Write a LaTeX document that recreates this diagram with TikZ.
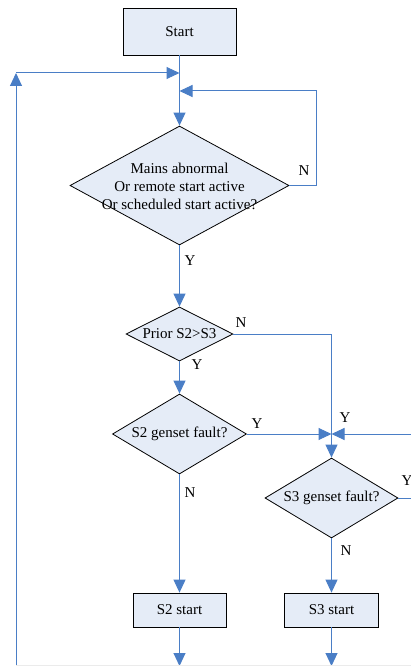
\documentclass[tikz,border=0pt]{standalone}
\usepackage{fontspec}
\setmainfont{Liberation Serif}
\usetikzlibrary{shapes.geometric,arrows.meta}
\definecolor{lineblue}{RGB}{74,126,198}
\definecolor{boxfill}{RGB}{229,236,247}
\begin{document}
\begin{tikzpicture}[x=1pt,y=-1pt,
  font=\fontsize{15}{18}\selectfont,
  box/.style={rectangle,draw,fill=boxfill,line width=0.8pt},
  dia/.style={diamond,draw,fill=boxfill,line width=0.8pt,inner sep=0pt},
  arr/.style={draw=lineblue,line width=1pt,-{Triangle[length=13pt,width=12pt]}},
  ln/.style={draw=lineblue,line width=1pt}]
\useasboundingbox (0,0) rectangle (411,666);
\node[box,minimum width=113pt,minimum height=47pt] (start) at (179.5,31.5) {Start};
\node[dia,minimum width=219pt,minimum height=119pt] (mains) at (179.5,185.5) {};
\node[align=center] (mainstext) at (179.5,186.5) {Mains abnormal\\Or remote start active\\Or scheduled start active?};
\node[dia,minimum width=107pt,minimum height=54pt] (prior) at (179.5,334) {};
\node (priortext) at (prior) {Prior S2>S3};
\node[dia,minimum width=134pt,minimum height=80pt] (s2f) at (179.5,434) {};
\node (s2ftext) at (s2f) {S2 genset fault?};
\node[dia,minimum width=133pt,minimum height=80pt] (s3f) at (331.5,498) {};
\node (s3ftext) at (s3f) {S3 genset fault?};
\node[box,minimum width=93pt,minimum height=34pt] (s2start) at (179.5,610) {S2 start};
\node[box,minimum width=94pt,minimum height=34pt] (s3start) at (331.5,610) {S3 start};

\coordinate (loopbot) at (16,666);
\coordinate (looptop) at (16,73);
\coordinate (join1) at (179.5,73);
\coordinate (join2) at (179.5,91);
\coordinate (meet) at (331.5,434);
\coordinate (rightin) at (411,434);
\coordinate (s3yout) at (411,498);
\coordinate (s2out) at (179.5,666);
\coordinate (s3out) at (331.5,666);
\coordinate (bottomright) at (411,665);

% connectors
\draw[arr] (start) -- (mains);
\draw[arr] (loopbot) -- (looptop);
\draw[arr] (looptop) -- (join1);
\draw[arr] (mains.east) -- ++(27,0) |- (join2);
\draw[arr] (mains) -- (prior);
\draw[arr] (prior) -- (s2f);
\draw[arr] (prior.east) -| (s3f);
\draw[arr] (s2f) -- (meet);
\draw[arr] (rightin) -- (meet);
\draw[ln] (s3f) -- (s3yout);
\draw[arr] (s2f) -- (s2start);
\draw[arr] (s3f) -- (s3start);
\draw[arr] (s2start) -- (s2out);
\draw[arr] (s3start) -- (s3out);
\draw[black!8,line width=0.6pt] ([yshift=1pt]loopbot) -- (bottomright);

% Y/N labels
\node (nmains) at (304,171) {N};
\node (ymains) at (190,261) {Y};
\node (nprior) at (241,323) {N};
\node (yprior) at (197,365) {Y};
\node (ys2) at (257,424) {Y};
\node (yright) at (345,418) {Y};
\node (ys3) at (407,481) {Y};
\node (ns2) at (190,493) {N};
\node (ns3) at (346,551) {N};
\end{tikzpicture}
\end{document}
